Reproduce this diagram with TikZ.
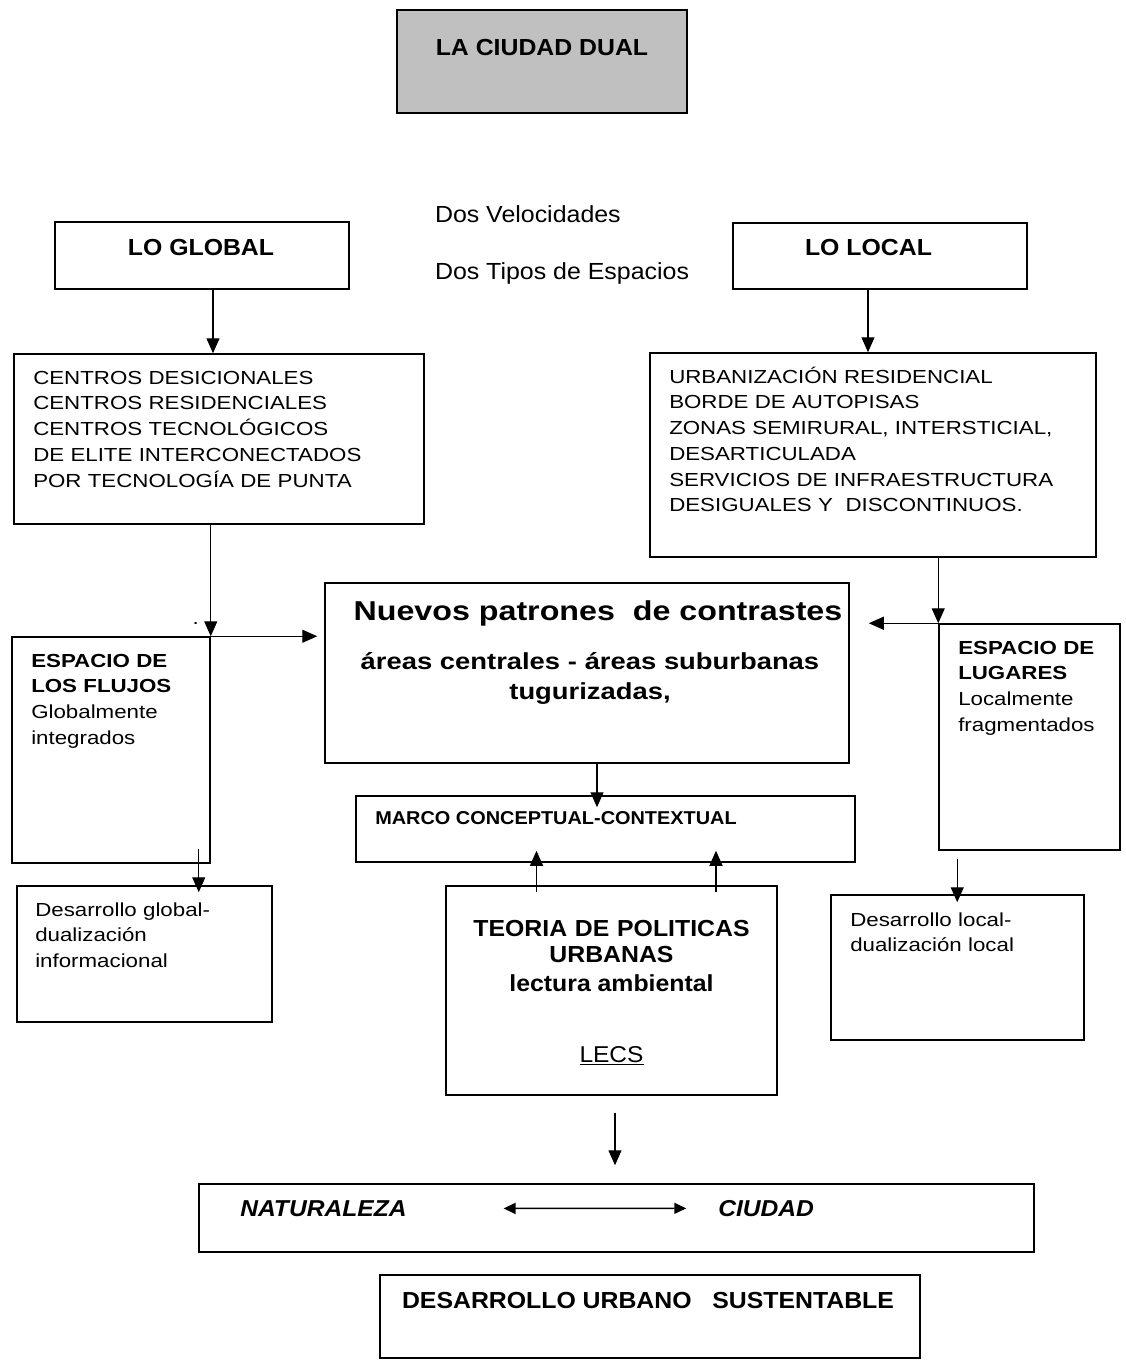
\documentclass[tikz,border=0pt]{standalone}
\usepackage{fontspec}
\setmainfont{Liberation Sans}[FakeStretch=1.07]
\newfontfamily\fuentecuerpo{Liberation Sans}[FakeStretch=1.18]
\usetikzlibrary{arrows.meta,positioning}
\definecolor{grisdual}{RGB}{192,192,192}
\tikzstyle{caja} = [draw, line width=1.5pt, inner sep=0pt]
\tikzstyle{texto} = [inner sep=0pt, outer sep=0pt]
\tikzstyle{flecha} = [line width=1.3pt, -{Triangle[length=15pt,width=13pt]}]
\newcommand{\fcuerpo}{\fuentecuerpo\fontsize{18.9}{25.7}\selectfont}
\newcommand{\ftitulo}{\fontsize{23.2}{26}\selectfont\bfseries}
\newcommand{\fdos}{\fontsize{23.3}{26}\selectfont}

\begin{document}
\begin{tikzpicture}[x=1pt, y=-1pt]
\useasboundingbox (0,0) rectangle (1126,1360);
% cajas
\node[caja, fill=grisdual, minimum width=290pt, minimum height=103pt] (titulo) at (542,61.5) {};
\node[caja, minimum width=294pt, minimum height=67pt] (global) at (202,255.5) {};
\node[caja, minimum width=294pt, minimum height=66pt] (local) at (880,256) {};
\node[caja, minimum width=410pt, minimum height=170pt] (centros) at (219,439) {};
\node[caja, minimum width=446pt, minimum height=204pt] (urbana) at (873,455) {};
\node[caja, minimum width=524pt, minimum height=180pt] (nuevos) at (587,673) {};
\node[caja, minimum width=198pt, minimum height=226pt] (flujos) at (111,750) {};
\node[caja, minimum width=181pt, minimum height=226pt] (lugares) at (1029.5,737) {};
\node[caja, minimum width=499pt, minimum height=66pt] (marco) at (605.5,829) {};
\node[caja, minimum width=255pt, minimum height=136pt] (dglobal) at (144.5,954) {};
\node[caja, minimum width=253pt, minimum height=145pt] (dlocal) at (957.5,967.5) {};
\node[caja, minimum width=331pt, minimum height=209pt] (teoria) at (611.5,990.5) {};
\node[caja, minimum width=835pt, minimum height=68pt] (natciudad) at (616.5,1218) {};
\node[caja, minimum width=540pt, minimum height=83pt] (sustentable) at (650,1316.5) {};

% textos
\node[texto, anchor=base, font=\ftitulo] (tituloTxt) at ([shift={(0,46)}]titulo.north) {LA CIUDAD DUAL};
\node[texto, anchor=base west, font=\fdos] (velocidades) at (435,222) {Dos Velocidades};
\node[texto, anchor=base west, font=\fdos] (tipos) at (435,279) {Dos Tipos de Espacios};
\node[texto, anchor=base, font=\ftitulo] (globalTxt) at ([shift={(-1,34)}]global.north) {LO GLOBAL};
\node[texto, anchor=base, font=\ftitulo] (localTxt) at ([shift={(-11.5,33)}]local.north) {LO LOCAL};
\node[texto, anchor=base west, font=\fcuerpo, text width=390pt, align=left] (centrosTxt)
  at ([shift={(20,31)}]centros.north west)
  {CENTROS DESICIONALES\\CENTROS RESIDENCIALES\\CENTROS TECNOLÓGICOS\\DE ELITE INTERCONECTADOS\\POR TECNOLOGÍA DE PUNTA};
\node[texto, anchor=base west, font=\fcuerpo, text width=420pt, align=left] (urbanaTxt)
  at ([shift={(20,31)}]urbana.north west)
  {URBANIZACIÓN RESIDENCIAL\\BORDE DE AUTOPISAS\\ZONAS SEMIRURAL, INTERSTICIAL,\\DESARTICULADA\\SERVICIOS DE INFRAESTRUCTURA\\DESIGUALES Y~ DISCONTINUOS.};
\node[texto, anchor=base, font={\fuentecuerpo\fontsize{27.3}{32}\selectfont\bfseries}] (nuevosTxt)
  at ([shift={(11,38)}]nuevos.north) {Nuevos patrones~ de contrastes};
\node[texto, anchor=base, font={\fuentecuerpo\fontsize{23.2}{30}\selectfont\bfseries}, text width=500pt, align=center] (areasTxt)
  at ([shift={(3,87)}]nuevos.north) {áreas centrales - áreas suburbanas\\tugurizadas,};
\node[texto, anchor=base west, font=\fcuerpo, text width=180pt, align=left] (flujosTxt)
  at ([shift={(20,31)}]flujos.north west) {\textbf{ESPACIO DE}\\\textbf{LOS FLUJOS}\\Globalmente\\integrados};
\node[texto, anchor=base west, font=\fcuerpo, text width=160pt, align=left] (lugaresTxt)
  at ([shift={(20,31)}]lugares.north west) {\textbf{ESPACIO DE}\\\textbf{LUGARES}\\Localmente\\fragmentados};
\node[texto, anchor=base west, font={\fontsize{18.6}{20}\selectfont\bfseries}] (marcoTxt)
  at ([shift={(20,29)}]marco.north west) {MARCO CONCEPTUAL-CONTEXTUAL};
\node[texto, anchor=base west, font=\fcuerpo, text width=230pt, align=left] (dglobalTxt)
  at ([shift={(19,31)}]dglobal.north west) {Desarrollo global-\\dualización\\informacional};
\node[texto, anchor=base west, font=\fcuerpo, text width=230pt, align=left] (dlocalTxt)
  at ([shift={(20,32)}]dlocal.north west) {Desarrollo local-\\dualización local};
\node[texto, anchor=base, font=\ftitulo, text width=320pt, align=center] (teoriaTxt)
  at ([shift={(0,51)}]teoria.north) {TEORIA DE POLITICAS\\URBANAS};
\node[texto, anchor=base, font=\ftitulo] (lecturaTxt)
  at ([shift={(0,106)}]teoria.north) {lectura ambiental};
\node[texto, anchor=base, font={\fontsize{22.9}{26}\selectfont}] (lecs)
  at ([shift={(0,177)}]teoria.north) {\underline{LECS}};
\node[texto, anchor=base west, font={\fontsize{23}{26}\selectfont\bfseries\itshape}] (naturaleza)
  at ([shift={(42,33)}]natciudad.north west) {NATURALEZA};
\node[texto, anchor=base west, font={\fontsize{23}{26}\selectfont\bfseries\itshape}] (ciudad)
  at ([shift={(520,33)}]natciudad.north west) {CIUDAD};
\node[texto, anchor=base, font=\ftitulo] (sustentableTxt)
  at ([shift={(-2,34)}]sustentable.north) {DESARROLLO URBANO~~ SUSTENTABLE};
\node[texto, anchor=base, font=\fcuerpo] (punto) at ([shift={(-15,-12)}]flujos.north east) {.};

% flechas
\draw[flecha] ([xshift=11]global.south) -- ([xshift=11]global.south |- centros.north);
\draw[flecha] ([xshift=-12]local.south) -- ([xshift=-12]local.south |- urbana.north);
\draw[flecha] (centros.south -| flujos.north east) -- (flujos.north east);
\draw[flecha, shorten >=7pt] (flujos.north east) -- (nuevos.west |- flujos.north east);
\draw[flecha] (urbana.south -| lugares.north west) -- (lugares.north west);
\draw[flecha, shorten >=19pt] ([xshift=36]lugares.north west) -- (nuevos.east |- lugares.north west);
\draw[flecha, shorten >=-12pt] ([xshift=10]nuevos.south) -- ([xshift=10]nuevos.south |- marco.north);
\draw[flecha, shorten >=-12pt] ([shift={(-75,7)}]teoria.north) -- ([xshift=-75]teoria.north |- marco.south);
\draw[flecha, shorten >=-12pt] ([shift={(104.5,7)}]teoria.north) -- ([xshift=104.5]teoria.north |- marco.south);
\draw[flecha, shorten >=-7pt] ([shift={(-12,-15)}]flujos.south east) -- ([xshift=-12]flujos.south east |- dglobal.north);
\draw[flecha, shorten >=-8pt] ([shift={(19,8)}]lugares.south west) -- ([xshift=19]lugares.south west |- dlocal.north);
\draw[flecha, shorten >=18pt] ([shift={(3.5,17)}]teoria.south) -- ([xshift=3.5]teoria.south |- natciudad.north);
\draw[line width=1.6pt, {Triangle[length=12pt,width=11pt]}-{Triangle[length=12pt,width=11pt]}, shorten <=97pt, shorten >=32pt]
  (naturaleza.east) -- (ciudad.west);
\end{tikzpicture}
\end{document}
